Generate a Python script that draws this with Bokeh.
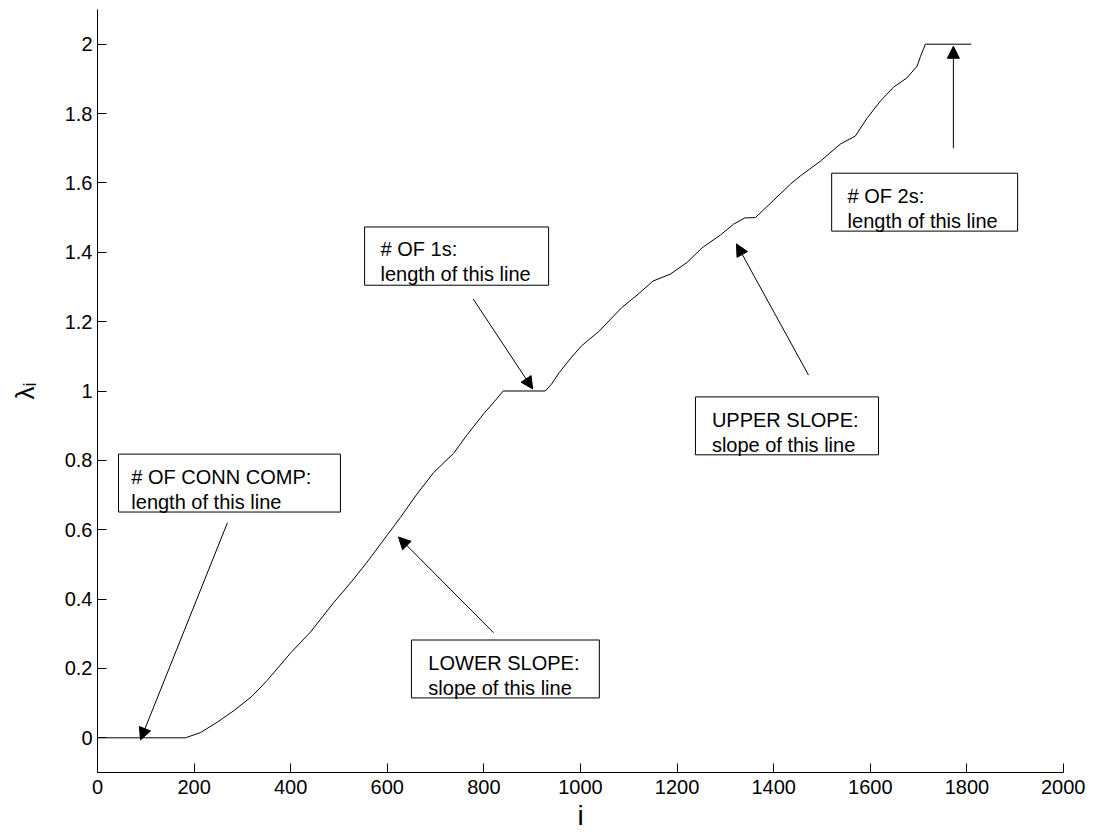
from bokeh.plotting import figure
from bokeh.models import (Range1d, FixedTicker, CustomJSTickFormatter, Label,
                          BoxAnnotation, Arrow, NormalHead)
from bokeh.embed import file_html
from bokeh.resources import INLINE

# ---- data ----
i_values = [0, 182, 213, 248, 282, 320, 351, 400, 441, 489, 527, 560, 600, 627, 660,
            696, 737, 766, 800, 822, 840, 927, 940, 956, 980, 1002, 1039, 1085, 1120,
            1150, 1186, 1220, 1252, 1290, 1317, 1340, 1362, 1400, 1435, 1455, 1497,
            1538, 1569, 1594, 1621, 1648, 1676, 1697, 1704, 1714, 1809]
lambda_values = [0, 0, 0.015, 0.045, 0.078, 0.12, 0.165, 0.245, 0.305, 0.39, 0.452,
                 0.51, 0.585, 0.635, 0.70, 0.765, 0.82, 0.875, 0.935, 0.97, 1.0, 1.0,
                 1.02, 1.053, 1.095, 1.13, 1.173, 1.24, 1.28, 1.317, 1.337, 1.37, 1.413,
                 1.45, 1.481, 1.499, 1.5, 1.55, 1.597, 1.62, 1.663, 1.712, 1.735, 1.788,
                 1.836, 1.876, 1.903, 1.937, 1.965, 2.0, 2.0]
x_ticks = [0, 200, 400, 600, 800, 1000, 1200, 1400, 1600, 1800, 2000]
y_ticks = [0, 0.2, 0.4, 0.6, 0.8, 1.0, 1.2, 1.4, 1.6, 1.8, 2.0]

box_texts = [("# OF CONN COMP:", "length of this line"),
             ("# OF 1s:", "length of this line"),
             ("# OF 2s:", "length of this line"),
             ("LOWER SLOPE:", "slope of this line"),
             ("UPPER SLOPE:", "slope of this line")]

# annotation placement (data coordinates): box left, right, top, bottom; text x, baseline1, baseline2
box_geom = [(43.5, 503, 0.818, 0.651, 70, 0.752, 0.680),
            (553, 934, 1.473, 1.305, 586, 1.409, 1.337),
            (1520, 1905, 1.628, 1.461, 1553, 1.562, 1.490),
            (650, 1039, 0.282, 0.115, 685, 0.216, 0.144),
            (1238, 1617, 0.983, 0.816, 1272, 0.916, 0.844)]
arrow_geom = [(269, 0.62, 89, -0.006),
              (778, 1.265, 901, 1.006),
              (1772, 1.70, 1772, 1.994),
              (820, 0.303, 623, 0.579),
              (1472, 1.046, 1323, 1.424)]

FONT = "Liberation Sans"

p = figure(width=1085, height=838, x_range=Range1d(0, 2000), y_range=Range1d(-0.1, 2.1),
           output_backend="svg", toolbar_location=None,
           min_border_left=97, min_border_right=22, min_border_top=9, min_border_bottom=66)
p.outline_line_color = None
p.grid.visible = False
p.background_fill_color = "white"
p.border_fill_color = "white"

p.line(i_values, lambda_values, color="black", line_width=1)

p.xaxis.ticker = FixedTicker(ticks=x_ticks)
p.yaxis.ticker = FixedTicker(ticks=y_ticks)
p.yaxis.formatter = CustomJSTickFormatter(code="return String(Math.round(tick*10)/10);")
for ax in (p.xaxis, p.yaxis):
    ax.minor_tick_line_color = None
    ax.major_tick_in = 9
    ax.major_tick_out = 0
    ax.axis_line_color = "black"
    ax.major_tick_line_color = "black"
    ax.major_label_text_font = FONT
    ax.major_label_text_font_size = "20px"
    ax.major_label_text_color = "black"
    ax.axis_label_text_font = FONT
    ax.axis_label_text_font_style = "normal"
    ax.axis_label_text_color = "black"
p.xaxis.major_label_standoff = 7
p.yaxis.major_label_standoff = 5

p.xaxis.axis_label = "i"
p.xaxis.axis_label_text_font_size = "28px"
p.xaxis.axis_label_standoff = 3
p.yaxis.axis_label = "λᵢ"
p.yaxis.axis_label_text_font_size = "26px"
p.yaxis.axis_label_standoff = 22

for (l, r, t, b, tx, b1, b2), (t1, t2) in zip(box_geom, box_texts):
    p.add_layout(BoxAnnotation(left=l, right=r, top=t, bottom=b, fill_color="white",
                               fill_alpha=1.0, line_color="black", line_width=1, line_alpha=1.0))
    for txt, yy in ((t1, b1), (t2, b2)):
        p.add_layout(Label(x=tx, y=yy, text=txt, text_font=FONT, text_font_size="20px",
                           text_color="black", text_baseline="alphabetic", text_align="left"))

for xs, ys, xe, ye in arrow_geom:
    p.add_layout(Arrow(end=NormalHead(size=12, fill_color="black", line_color="black", line_width=1),
                       x_start=xs, y_start=ys, x_end=xe, y_end=ye,
                       line_color="black", line_width=1))

open("out.html", "w").write(file_html(p, INLINE))
